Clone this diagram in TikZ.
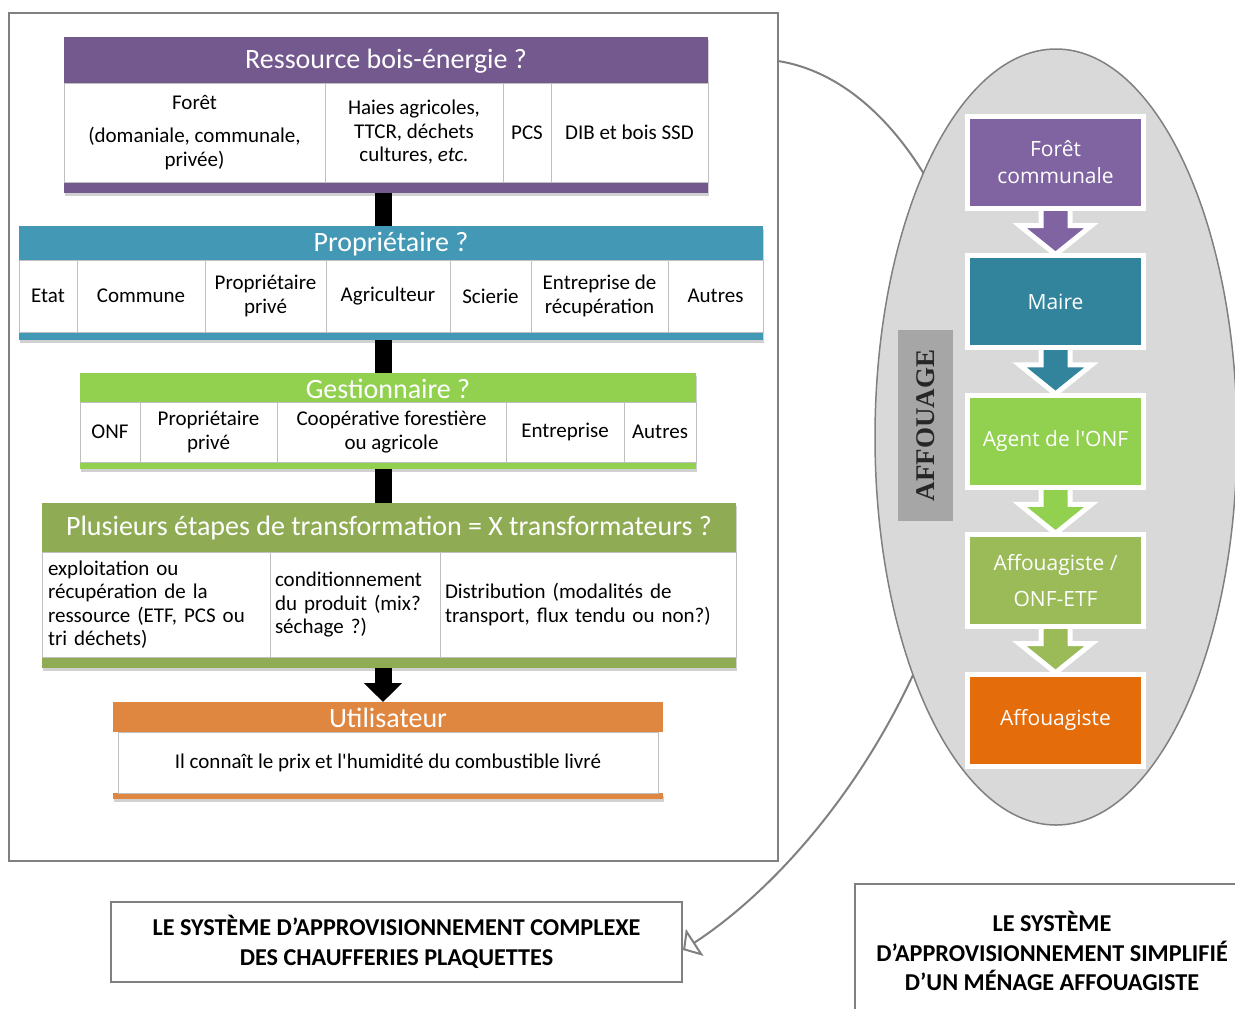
\documentclass[tikz,border=0pt]{standalone}
\usepackage{fontspec}
\setmainfont{Carlito}
\newfontfamily\carlnm{Carlito}
\newfontfamily\osans{Open Sans}
\newfontfamily\tnr{Liberation Serif}
\usepackage{xcolor}
\definecolor{resc}{HTML}{74598F}
\definecolor{propc}{HTML}{4399B5}
\definecolor{gestc}{HTML}{92D050}
\definecolor{transc}{HTML}{8FAC54}
\definecolor{utilc}{HTML}{DF8740}
\definecolor{purp}{HTML}{8064A2}
\definecolor{teal}{HTML}{31849B}
\definecolor{lgreen}{HTML}{92D050}
\definecolor{olive}{HTML}{9BBB59}
\definecolor{orng}{HTML}{E46C0A}
\definecolor{ellg}{HTML}{D9D9D9}
\definecolor{affg}{HTML}{A6A6A6}
\definecolor{frame}{HTML}{808080}
\definecolor{cellb}{HTML}{BFBFBF}
\usepackage{tikz}
\usetikzlibrary{arrows.meta,positioning,calc,fit,shapes.geometric,shadows,backgrounds}
\pgfdeclarelayer{back}
\pgfdeclarelayer{mid}
\pgfsetlayers{back,mid,main}
\newcommand\cellf{\fontsize{10.5}{11.75}\selectfont}
\newcommand\headf{\fontsize{14}{16}\selectfont}
\newcommand\sq{{\carlnm'}}
\tikzset{
  band/.style={fill=#1,draw=none,inner sep=0pt,outer sep=0pt},
  shad/.style={drop shadow={shadow xshift=0.3pt,shadow yshift=-1.5pt,opacity=0.18,fill=black}},
  cell/.style={fill=white,draw=cellb,line width=0.5pt,inner sep=0pt,outer sep=0pt,align=center,font=\cellf},
  htxt/.style={text=white,inner sep=0pt,font=\headf},
  bar/.style={line width=8.5pt,draw=black},
  sbox/.style={fill=#1,draw=white,line width=2.5pt,outer sep=0pt,minimum width=88pt,minimum height=46pt,
    text=white,align=center,font=\osans\fontsize{10.5}{13.5}\selectfont},
  barr/.style={fill=#1,draw=white,line width=2.5pt,line join=miter},
  lbl/.style={draw=frame,line width=1pt,fill=white,align=center,inner sep=0pt,font=\bfseries\fontsize{12.1}{14.75}\selectfont},
  link/.style={draw=frame,line width=1pt,-{Triangle[open,length=7pt,width=16pt]}},
}
\begin{document}
\begin{tikzpicture}[x=0.5pt,y=-0.5pt]
\useasboundingbox (0,0) rectangle (1235,1008);
\coordinate (bx) at (383,0);
% left panel
\node[draw=frame,line width=1pt,inner sep=0pt,outer sep=0pt,fit={(9,13) (778,861)}] (panel) {};

% ressource
\node[band=resc,shad,fit={(64,37) (708,193)}] (res) {};
\node[htxt] (resh) at (386,61) {Ressource bois-énergie ?};
\foreach \xa/\xb/\t [count=\k] in {64/325/{Forêt\\[5pt](domaniale, communale,\\privée)},325/503/{Haies agricoles,\\TTCR, déchets\\cultures, \textit{etc.}},503/551/PCS,551/708/DIB et bois SSD}
  \node[cell,minimum width={(\xb-\xa)*0.5pt},minimum height=49.5pt] (ra\k) at ({(\xa+\xb)/2},132.5) {\t};

% proprietaire
\node[band=propc,shad,fit={(19,226) (763,340)}] (prop) {};
\node[htxt] (proph) at (391,244) {Propriétaire ?};
\foreach \xa/\xb/\t [count=\k] in {19/77/Etat,77/205/Commune,205/326/{Propriétaire\\privé},326/450/Agriculteur,450/531/Scierie,531/668/{Entreprise de\\récupération},668/763/Autres}
  \node[cell,minimum width={(\xb-\xa)*0.5pt},minimum height=36pt] (rb\k) at ({(\xa+\xb)/2},296) {\t};

% gestionnaire
\node[band=gestc,shad,fit={(80,373) (696,469)}] (gest) {};
\node[htxt] (gesth) at (388,388.5) {Gestionnaire ?};
\foreach \xa/\xb/\t [count=\k] in {80/140/ONF,140/277/{Propriétaire\\privé},277/506/{Coopérative forestière\\ou agricole},506/624/Entreprise,624/696/Autres}
  \node[cell,minimum width={(\xb-\xa)*0.5pt},minimum height=30pt] (rc\k) at ({(\xa+\xb)/2},432) {\t};

% transformation
\node[band=transc,shad,fit={(42,503) (736,668)}] (trans) {};
\node[htxt] (transh) at (389,528.5) {Plusieurs étapes de transformation = X transformateurs ?};
\foreach \xa/\xb/\w/\t [count=\k] in {42/270/108/{exploitation ou\\récupération de la\\ressource (ETF, PCS ou\\tri déchets)},270/440/80/{conditionnement\\du produit (mix?\\séchage ?)},440/736/143/{Distribution (modalités de\\transport, flux tendu ou non?)}}
  \node[cell,align=left,text width=\w pt,minimum width={(\xb-\xa)*0.5pt},minimum height=52.5pt] (rd\k) at ({(\xa+\xb)/2},604.5) {\t};

% utilisateur
\node[band=utilc,fit={(113,702) (663,732)}] (util) {};
\node[htxt] (utilh) at (388,718) {Utilisateur};
\node[band=utilc,shad,fit={(113,793) (663,799)}] (utils) {};
\node[cell,minimum width=270pt,minimum height=30.5pt] (ub) at (388,762.5) {Il connaît le prix et l\sq humidité du combustible livré};

\draw[bar] (res.south -| bx) -- (prop.north -| bx);
\draw[bar] (prop.south -| bx) -- (gest.north -| bx);
\draw[bar] (gest.south -| bx) -- (trans.north -| bx);
\draw[bar,-{Triangle[length=9.5pt,width=18.5pt]}] (trans.south -| bx) -- (util.north -| bx);

% labels
\node[lbl,minimum width=285.5pt,minimum height=40pt] (lbl1) at (396.5,942) {LE SYSTÈME D’APPROVISIONNEMENT COMPLEXE\\DES CHAUFFERIES PLAQUETTES};
\node[lbl,minimum width=197pt,minimum height=67pt] (lbl2) at (1052,951) {LE SYSTÈME\\D’APPROVISIONNEMENT SIMPLIFIÉ\\D’UN MÉNAGE AFFOUAGISTE};

% affouage
\foreach \i/\c/\t in {0/purp/{Forêt\\communale},1/teal/Maire,2/lgreen/{Agent de l'ONF},3/olive/{Affouagiste /\\[4.5pt]ONF-ETF},4/orng/Affouagiste}
  \node[sbox=\c] (s\i) at (1055.5,{162.5+139.4*\i}) {\t};
\node[fill=affg,rotate=90,minimum width=95.5pt,minimum height=27.5pt,inner sep=0pt,
  text=black!85,font=\tnr\bfseries\fontsize{13.5}{15}\selectfont] (affo) at (925.5,425.5) {AFFOUAGE};

\begin{pgfonlayer}{back}
\draw[link] ($(panel.north east)+(0,48)$) .. controls (900,80) and (990,250) .. (990,420)
  .. controls (990,560) and (940,620) .. (913,675) .. controls (850,810) and (760,900) .. ($(lbl1.east)+(0,8)$);
\node[ellipse,fill=ellg,draw=frame,line width=0.75pt,minimum width=181pt,minimum height=388pt,inner sep=0pt] (ell) at (1056,437) {};
\end{pgfonlayer}

\begin{pgfonlayer}{mid}
\foreach \i/\c in {0/purp,1/teal,2/lgreen,3/olive}
  \draw[barr=\c] ($(s\i.south)+(-14.5,-6)$) -- ++(0,23) -- ++(-21.5,0) -- ($(s\i.south)+(0,46)$)
    -- ($(s\i.south)+(36,17)$) -- ++(-21.5,0) -- ++(0,-23) -- cycle;
\end{pgfonlayer}
\end{tikzpicture}
\end{document}
